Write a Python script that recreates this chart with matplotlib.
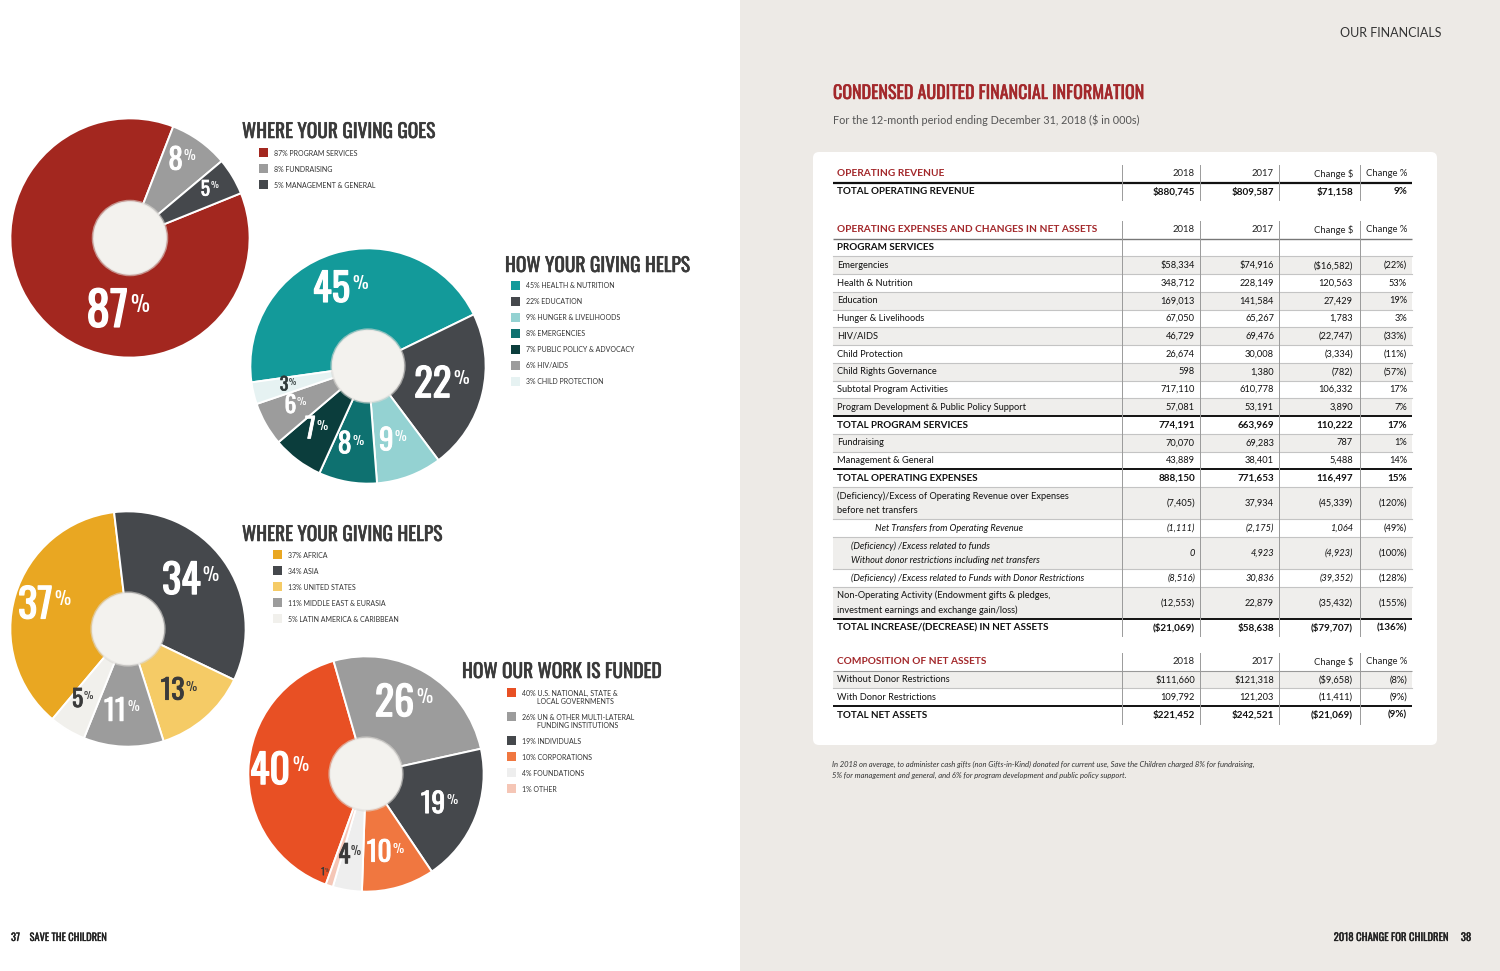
import numpy as np
import matplotlib.pyplot as plt
import matplotlib.patheffects as pe
from matplotlib.patches import Rectangle, FancyBboxPatch, Circle

W, H = 1500, 971
COND = ['Oswald', 'Liberation Sans Narrow', 'DejaVu Sans']
BODY = ['Lato', 'DejaVu Sans']
DARK = '#3a3a3a'
RED = '#a3282b'

# ---- donut data (percent shares) ----
goes_labels = ['PROGRAM SERVICES', 'FUNDRAISING', 'MANAGEMENT & GENERAL']
goes_pct = [87, 8, 5]

helps_labels = ['HEALTH & NUTRITION', 'EDUCATION', 'HUNGER & LIVELIHOODS', 'EMERGENCIES',
                'PUBLIC POLICY & ADVOCACY', 'HIV/AIDS', 'CHILD PROTECTION']
helps_pct = [45, 22, 9, 8, 7, 6, 3]

region_labels = ['AFRICA', 'ASIA', 'UNITED STATES', 'MIDDLE EAST & EURASIA', 'LATIN AMERICA & CARIBBEAN']
region_pct = [37, 34, 13, 11, 5]

funded_labels = ['U.S. NATIONAL, STATE &\nLOCAL GOVERNMENTS', 'UN & OTHER MULTI-LATERAL\nFUNDING INSTITUTIONS',
                 'INDIVIDUALS', 'CORPORATIONS', 'FOUNDATIONS', 'OTHER']
funded_pct = [40, 26, 19, 10, 4, 1]

# ---- table data ($ in 000s) ----
rev_labels = ['TOTAL OPERATING REVENUE']
rev_2018 = ['$880,745']
rev_2017 = ['$809,587']
rev_chg = ['$71,158']
rev_pct = ['9%']

exp_labels = ['PROGRAM SERVICES', 'Emergencies', 'Health & Nutrition', 'Education', 'Hunger & Livelihoods',
              'HIV/AIDS', 'Child Protection', 'Child Rights Governance', 'Subtotal Program Activities',
              'Program Development & Public Policy Support', 'TOTAL PROGRAM SERVICES', 'Fundraising',
              'Management & General', 'TOTAL OPERATING EXPENSES',
              '(Deficiency)/Excess of Operating Revenue over Expenses\nbefore net transfers',
              'Net Transfers from Operating Revenue',
              '(Deficiency) /Excess related to funds\nWithout donor restrictions including net transfers',
              '(Deficiency) /Excess related to Funds with Donor Restrictions',
              'Non-Operating Activity (Endowment gifts & pledges,\ninvestment earnings and exchange gain/loss)',
              'TOTAL INCREASE/(DECREASE) IN NET ASSETS']
exp_2018 = ['', '$58,334', '348,712', '169,013', '67,050', '46,729', '26,674', '598', '717,110', '57,081',
            '774,191', '70,070', '43,889', '888,150', '(7,405)', '(1,111)', '0', '(8,516)', '(12,553)', '($21,069)']
exp_2017 = ['', '$74,916', '228,149', '141,584', '65,267', '69,476', '30,008', '1,380', '610,778', '53,191',
            '663,969', '69,283', '38,401', '771,653', '37,934', '(2,175)', '4,923', '30,836', '22,879', '$58,638']
exp_chg = ['', '($16,582)', '120,563', '27,429', '1,783', '(22,747)', '(3,334)', '(782)', '106,332', '3,890',
           '110,222', '787', '5,488', '116,497', '(45,339)', '1,064', '(4,923)', '(39,352)', '(35,432)', '($79,707)']
exp_pct = ['', '(22%)', '53%', '19%', '3%', '(33%)', '(11%)', '(57%)', '17%', '7%',
           '17%', '1%', '14%', '15%', '(120%)', '(49%)', '(100%)', '(128%)', '(155%)', '(136%)']

net_labels = ['Without Donor Restrictions', 'With Donor Restrictions', 'TOTAL NET ASSETS']
net_2018 = ['$111,660', '109,792', '$221,452']
net_2017 = ['$121,318', '121,203', '$242,521']
net_chg = ['($9,658)', '(11,411)', '($21,069)']
net_pct = ['(8%)', '(9%)', '(9%)']

# ---- styling ----
rev_kind = ['bold']
exp_kind = ['section'] + ['row'] * 9 + ['total', 'row', 'row', 'total', 'row', 'ital', 'ital2', 'ital2', 'row', 'total']
exp_shade = [False, True, False, True, False, True, False, True, False, True, False, True, False, False,
             True, False, True, False, True, False]
net_kind = ['row', 'row', 'total']
net_shade = [True, False, False]


def heavy(color, lw):
    # Oswald ships only in regular weight here, so thicken it with a matching stroke
    return [pe.withStroke(linewidth=lw, foreground=color)]


fig = plt.figure(figsize=(15, 9.71), dpi=100)
bg = fig.add_axes([0, 0, 1, 1])
bg.set_xlim(0, W)
bg.set_ylim(H, 0)
bg.axis('off')
bg.add_patch(Rectangle((740, 0), 760, H, fc='#edeae6', ec='none', zorder=0))
bg.add_patch(FancyBboxPatch((813, 152), 624, 593, boxstyle='round,pad=0,rounding_size=6',
                            fc='white', ec='none', zorder=0))


def donut(cx, cy, r, values, colors, start, txt_colors, sizes, lab_r, overrides=None, hole=0.3):
    ax = fig.add_axes([(cx - r) / W, 1 - (cy + r) / H, 2 * r / W, 2 * r / H])
    wedges, _ = ax.pie(values, colors=colors, startangle=start, counterclock=False, radius=1,
                       wedgeprops=dict(width=1 - hole, edgecolor='white', linewidth=1.4))
    ax.set_xlim(-1.02, 1.02)
    ax.set_ylim(-1.02, 1.02)
    ax.axis('off')
    ax.add_patch(Circle((0, 0), hole + 0.02, fc='#dcdad5', ec='none', zorder=3, alpha=0.6))
    ax.add_patch(Circle((0, 0), hole, fc='#f3f2ee', ec='none', zorder=4))
    overrides = overrides or {}
    for i, (w, v) in enumerate(zip(wedges, values)):
        ang = (w.theta1 + w.theta2) / 2
        rr = lab_r
        if i in overrides:
            ang, rr = overrides[i]
        x = rr * np.cos(np.radians(ang))
        y = rr * np.sin(np.radians(ang))
        fs = sizes[i]
        t = ax.text(x - 0.004 * fs, y, str(v), ha='center', va='center', fontsize=fs,
                    color=txt_colors[i], family=COND, zorder=5,
                    path_effects=heavy(txt_colors[i], fs * 0.03))
        ax.annotate('%', xy=(1.05, 0.88), xycoords=t, ha='left', va='top', fontsize=fs * 0.45,
                    color=txt_colors[i], family=COND, zorder=5)


def legend(tx, ty, title, sx, sy, labels, pct, colors):
    bg.text(tx, ty, title, ha='left', va='center', fontsize=14, family=COND, color=DARK,
            path_effects=heavy(DARK, 0.4))
    y = sy
    for lab, p, c in zip(labels, pct, colors):
        bg.add_patch(Rectangle((sx, y - 4.5), 9, 9, fc=c, ec='none'))
        lines = lab.split('\n')
        bg.text(sx + 15, y, f'{p}% {lines[0]}', ha='left', va='center', fontsize=5, family=BODY, color='#333')
        for k, extra in enumerate(lines[1:]):
            bg.text(sx + 30, y + 8 * (k + 1), extra, ha='left', va='center', fontsize=5, family=BODY, color='#333')
        y += 16 + 8 * (len(lines) - 1)


W1 = 'white'
c_goes = ['#a3271f', '#9c9c9c', '#45484c']
c_helps = ['#139a9a', '#45484c', '#94d2d2', '#0e7170', '#0b3d3c', '#9c9c9c', '#e6f2f2']
c_region = ['#e9a722', '#45484c', '#f5cb66', '#9c9c9c', '#f1f0ec']
c_funded = ['#e85024', '#9c9c9c', '#45484c', '#f07740', '#eeeeee', '#f5c6b6']

donut(130, 238, 122, goes_pct, c_goes, 22, [W1, W1, W1], [34, 21, 14], 0.8, {0: (-95, 0.62)})
donut(368, 366, 120, helps_pct, c_helps, 188, [W1] * 6 + ['#2f3a3a'], [28, 28, 21, 20, 20, 17, 13], 0.68)
donut(128, 629, 120, region_pct, c_region, 230, [W1, W1, '#3a3a3a', W1, '#3a3a3a'], [29, 29, 20, 21, 17], 0.7)
donut(366, 774, 120, funded_pct, c_funded, 250, [W1, W1, W1, W1, '#3a3a3a', '#3a3a3a'],
      [29, 29, 20, 20, 18, 7], 0.7, {5: (-112, 0.9)})

legend(242, 131, 'WHERE YOUR GIVING GOES', 259, 153, goes_labels, goes_pct, c_goes)
legend(505, 265, 'HOW YOUR GIVING HELPS', 511, 286, helps_labels, helps_pct, c_helps)
legend(242, 534, 'WHERE YOUR GIVING HELPS', 273, 555, region_labels, region_pct, c_region)
legend(462, 671, 'HOW OUR WORK IS FUNDED', 507, 693, funded_labels, funded_pct, c_funded)

# ---- right page ----
bg.text(1441, 33, 'OUR FINANCIALS', ha='right', va='center', fontsize=9, family=BODY, color='#333')
bg.text(833, 93, 'CONDENSED AUDITED FINANCIAL INFORMATION', ha='left', va='center', fontsize=13,
        family=COND, color=RED, path_effects=heavy(RED, 0.35))
bg.text(833, 120, 'For the 12-month period ending December 31, 2018 ($ in 000s)', ha='left', va='center',
        fontsize=7.8, family=BODY, color='#555')

TX0, TX1 = 833, 1412
VLINES = [1122, 1200, 1279, 1360]
COLR = [1195, 1274, 1353, 1407]
LX = 837
RH, RH2 = 17.75, 32
HEADS = ['2018', '2017', 'Change $', 'Change %']


def block(top, header, labels, c18, c17, cchg, cpct, kinds, shade, head_line):
    y = top
    bg.text(LX, y + RH / 2, header, ha='left', va='center', fontsize=7.3, family=BODY, weight='bold', color=RED)
    for x, v in zip(COLR, HEADS):
        bg.text(x, y + RH / 2, v, ha='right', va='center', fontsize=6.8, family=BODY, color='#222')
    y += RH
    first = True
    for lab, a, b, c, d, kind, sh in zip(labels, c18, c17, cchg, cpct, kinds, shade):
        h = RH2 if '\n' in lab else RH
        if sh:
            bg.add_patch(Rectangle((TX0, y), TX1 - TX0, h, fc='#efeeec', ec='none', zorder=1))
        if first:
            lc, lw = head_line
            bg.plot([TX0, TX1], [y, y], color=lc, lw=lw, zorder=3, solid_capstyle='butt')
        elif kind == 'total':
            bg.plot([TX0, TX1], [y, y], color='#111', lw=1.4, zorder=3, solid_capstyle='butt')
        else:
            bg.plot([TX0, TX1], [y, y], color='#c4c4c4', lw=0.8, zorder=2)
        first = False
        bold = kind in ('total', 'bold', 'section')
        ital = kind in ('ital', 'ital2')
        indent = {'ital': 38, 'ital2': 14}.get(kind, 0)
        fs = 7.1 if bold else 6.7
        bg.text(LX + indent, y + h / 2, lab, ha='left', va='center', fontsize=fs, family=BODY,
                weight='bold' if bold else 'normal', style='italic' if ital else 'normal',
                color='#111', linespacing=1.7, zorder=4)
        for j, (x, v) in enumerate(zip(COLR, [a, b, c, d])):
            bg.text(x, y + h / 2, v, ha='right', va='center', fontsize=fs, family=BODY,
                    weight='bold' if bold else 'normal',
                    style='italic' if (ital and j < 3) else 'normal', color='#111', zorder=4)
        y += h
    for x in VLINES:
        bg.plot([x, x], [top, y], color='#9a9a9a', lw=0.7, zorder=3)
    return y


block(165, 'OPERATING REVENUE', rev_labels, rev_2018, rev_2017, rev_chg, rev_pct, rev_kind, [False],
      ('#111', 1.6))
block(221, 'OPERATING EXPENSES AND CHANGES IN NET ASSETS', exp_labels, exp_2018, exp_2017, exp_chg,
      exp_pct, exp_kind, exp_shade, ('#777', 1.0))
block(653, 'COMPOSITION OF NET ASSETS', net_labels, net_2018, net_2017, net_chg, net_pct, net_kind,
      net_shade, ('#999', 0.8))

bg.text(832, 764, 'In 2018 on average, to administer cash gifts (non Gifts-in-Kind) donated for current use, '
        'Save the Children charged 8% for fundraising,', ha='left', va='center', fontsize=5.5,
        family=BODY, style='italic', color='#333')
bg.text(832, 775, '5% for management and general, and 6% for program development and public policy support.',
        ha='left', va='center', fontsize=5.5, family=BODY, style='italic', color='#333')

bg.text(11, 938, '37    SAVE THE CHILDREN', ha='left', va='center', fontsize=7.5, family=COND,
        color='#222', path_effects=heavy('#222', 0.2))
bg.text(1470, 938, '2018 CHANGE FOR CHILDREN     38', ha='right', va='center',
        fontsize=7.7, family=COND, color='#222', path_effects=heavy('#222', 0.2))

fig.savefig('out.png', dpi=100)
